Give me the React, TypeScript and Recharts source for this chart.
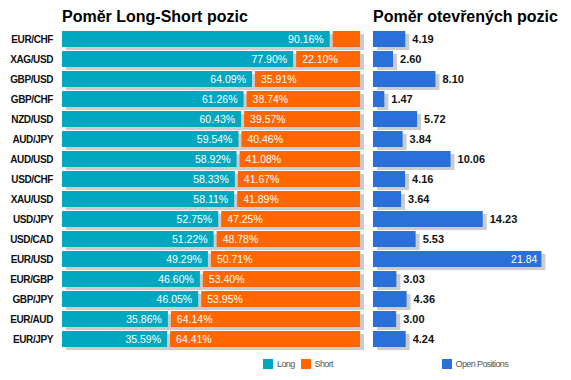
import { BarChart, Bar, XAxis, YAxis, LabelList } from 'recharts';

const pairs = [
  'EUR/CHF', 'XAG/USD', 'GBP/USD', 'GBP/CHF', 'NZD/USD', 'AUD/JPY', 'AUD/USD', 'USD/CHF',
  'XAU/USD', 'USD/JPY', 'USD/CAD', 'EUR/USD', 'EUR/GBP', 'GBP/JPY', 'EUR/AUD', 'EUR/JPY'
];
const longPct = [90.16, 77.9, 64.09, 61.26, 60.43, 59.54, 58.92, 58.33, 58.11, 52.75, 51.22, 49.29, 46.6, 46.05, 35.86, 35.59];
const shortPct = [9.84, 22.1, 35.91, 38.74, 39.57, 40.46, 41.08, 41.67, 41.89, 47.25, 48.78, 50.71, 53.4, 53.95, 64.14, 64.41];
const openPositions = [4.19, 2.6, 8.1, 1.47, 5.72, 3.84, 10.06, 4.16, 3.64, 14.23, 5.53, 21.84, 3.03, 4.36, 3.0, 4.24];

const TEAL = '#00a7bf';
const ORANGE = '#ff6600';
const BLUE = '#2a70d9';
const SHADOW = '#cccccc';
const FONT = '"Liberation Sans", Arial, sans-serif';

const rows = pairs.map((pair, i) => ({
  pair,
  long: longPct[i],
  short: shortPct[i],
  open: openPositions[i]
}));

function LongShape(props: any) {
  const { x, y, width, height, payload } = props;
  const full = (width * 100) / payload.long;
  return (
    <g>
      <rect x={x + 4} y={y + 3} width={full} height={height} fill={SHADOW} />
      <rect x={x} y={y} width={Math.max(width - 1, 0)} height={height} fill={TEAL} />
    </g>
  );
}

function ShortShape(props: any) {
  const { x, y, width, height } = props;
  return <rect x={x + 2} y={y} width={Math.max(width - 2, 0)} height={height} fill={ORANGE} />;
}

function OpenShape(props: any) {
  const { x, y, width, height } = props;
  return (
    <g>
      <rect x={x + 4} y={y + 3} width={width} height={height} fill={SHADOW} />
      <rect x={x} y={y} width={width} height={height} fill={BLUE} />
    </g>
  );
}

const pctText = (v: number) => `${v.toFixed(2)}%`;

function LongLabel(p: any) {
  const { x, y, width, height, value } = p;
  if (value < 15) return null;
  return (
    <text x={x + width - 7} y={y + height / 2 + 4} textAnchor="end" fill="#fff" fontSize={10.5} fontFamily={FONT}>
      {pctText(value)}
    </text>
  );
}

function ShortLabel(p: any) {
  const { x, y, height, value } = p;
  if (value < 15) return null;
  return (
    <text x={x + 8} y={y + height / 2 + 4} textAnchor="start" fill="#fff" fontSize={10.5} fontFamily={FONT}>
      {pctText(value)}
    </text>
  );
}

function OpenLabel(p: any) {
  const { x, y, width, height, value } = p;
  if (value > 20) {
    return (
      <text x={x + width - 4} y={y + height / 2 + 4} textAnchor="end" fill="#fff" fontSize={10.5} fontFamily={FONT}>
        {value.toFixed(2)}
      </text>
    );
  }
  return (
    <text x={x + width + 7} y={y + height / 2 + 4} textAnchor="start" fill="#111" fontSize={11} fontWeight="bold" fontFamily={FONT}>
      {value.toFixed(2)}
    </text>
  );
}

function PairTick(p: any) {
  const { x, y, payload } = p;
  return (
    <text x={x} y={y + 4} textAnchor="end" fill="#111" fontSize={10} fontWeight="bold" fontFamily={FONT} letterSpacing={-0.4}>
      {payload.value}
    </text>
  );
}

function LegendItem({ left, color, label }: { left: number; color: string; label: string }) {
  return (
    <div style={{ position: 'absolute', left, top: 359, height: 10, display: 'flex', alignItems: 'center' }}>
      <div style={{ width: 10, height: 10, background: color, marginRight: 4 }} />
      <span style={{ fontFamily: FONT, fontSize: 9, letterSpacing: -0.6, color: '#555', lineHeight: '10px' }}>{label}</span>
    </div>
  );
}

const titleStyle = {
  position: 'absolute' as const,
  top: 8.5,
  fontFamily: FONT,
  fontWeight: 'bold' as const,
  fontSize: 16,
  lineHeight: '16px',
  color: '#000',
  whiteSpace: 'nowrap' as const
};

export default function App() {
  return (
    <div style={{ position: 'absolute', left: 0, top: 0, width: 571, height: 380, background: '#fff', overflow: 'hidden' }}>
      <div style={{ ...titleStyle, left: 62 }}>Poměr Long-Short pozic</div>
      <div style={{ ...titleStyle, left: 373 }}>Poměr otevřených pozic</div>

      <div style={{ position: 'absolute', left: 0, top: 0 }}>
        <BarChart
          width={372}
          height={380}
          data={rows}
          layout="vertical"
          margin={{ top: 29, right: 12, bottom: 31, left: 0 }}
          barCategoryGap={2}
        >
          <XAxis type="number" domain={[0, 100]} hide />
          <YAxis
            type="category"
            dataKey="pair"
            width={62}
            axisLine={false}
            tickLine={false}
            tickMargin={3}
            tick={<PairTick />}
            interval={0}
          />
          <Bar dataKey="long" name="Long" stackId="a" fill={TEAL} barSize={16} shape={<LongShape />} isAnimationActive={false}>
            <LabelList dataKey="long" content={<LongLabel />} />
          </Bar>
          <Bar dataKey="short" name="Short" stackId="a" fill={ORANGE} barSize={16} shape={<ShortShape />} isAnimationActive={false}>
            <LabelList dataKey="short" content={<ShortLabel />} />
          </Bar>
        </BarChart>
      </div>

      <div style={{ position: 'absolute', left: 360, top: 0 }}>
        <BarChart
          width={211}
          height={380}
          data={rows}
          layout="vertical"
          margin={{ top: 29, right: 29.6, bottom: 31, left: 13 }}
          barCategoryGap={2}
        >
          <XAxis type="number" domain={[0, 'dataMax']} hide />
          <YAxis type="category" dataKey="pair" hide />
          <Bar dataKey="open" name="Open Positions" fill={BLUE} barSize={16} shape={<OpenShape />} isAnimationActive={false}>
            <LabelList dataKey="open" content={<OpenLabel />} />
          </Bar>
        </BarChart>
      </div>

      <LegendItem left={263} color={TEAL} label="Long" />
      <LegendItem left={300.5} color={ORANGE} label="Short" />
      <LegendItem left={441.5} color={BLUE} label="Open Positions" />
    </div>
  );
}
